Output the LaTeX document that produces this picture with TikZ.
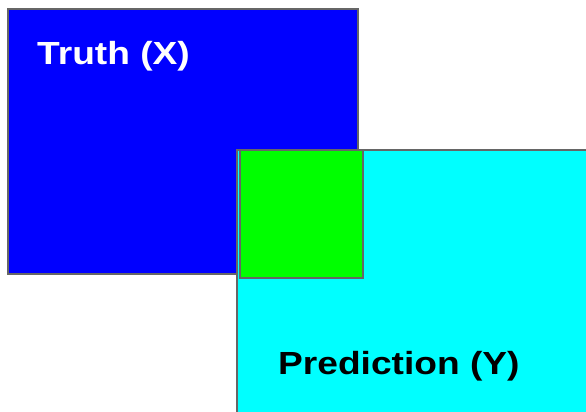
\documentclass[tikz,border=0pt]{standalone}
\usepackage{fontspec}
\setmainfont{Liberation Sans}
\definecolor{edgegray}{HTML}{666666}
\definecolor{truthblue}{HTML}{0000FF}
\definecolor{predcyan}{HTML}{00FFFF}
\definecolor{overlapgreen}{HTML}{00FF00}
\begin{document}
\begin{tikzpicture}[x=1pt,y=-1pt,
  region/.style={draw=edgegray,line width=1.5pt},
  lbl/.style={inner sep=0pt,anchor=base west,font=\fontsize{32}{32}\selectfont\bfseries}]
\useasboundingbox (0,0) rectangle (586,412);
\draw[region,fill=truthblue] (8,9) rectangle (358,274);
\draw[region,fill=predcyan] (237,150) rectangle (600,430);
\draw[region,fill=overlapgreen] (240,150) rectangle (363,278);
\node[lbl,text=white] (truth) at (37,64) {\scalebox{1.16}[1]{Truth (X)}};
\node[lbl,text=black] (pred) at (278,374) {\scalebox{1.16}[1]{Prediction (Y)}};
\end{tikzpicture}
\end{document}
